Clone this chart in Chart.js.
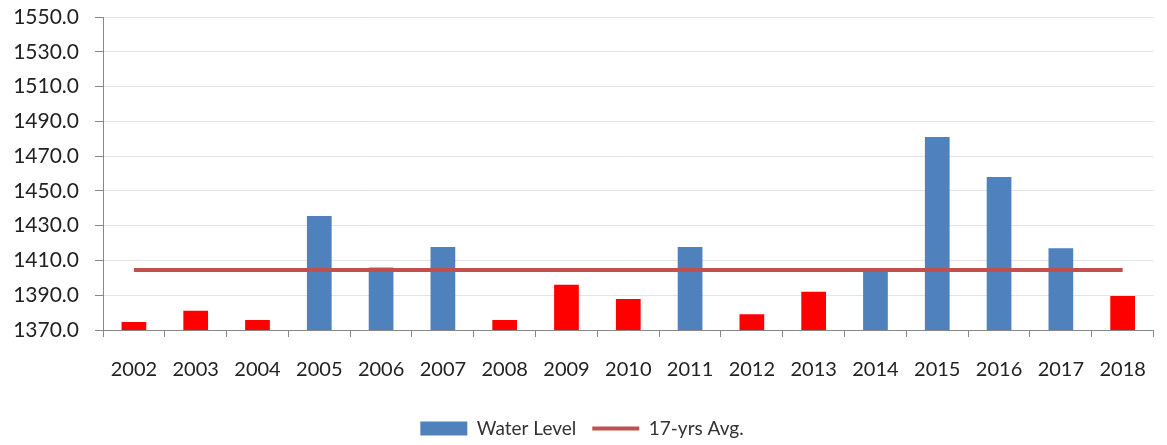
<!DOCTYPE html>
<html>
<head>
<meta charset="utf-8">
<script src="https://cdn.jsdelivr.net/npm/chart.js@4.4.1/dist/chart.umd.min.js"></script>
<style>
  html, body { margin: 0; padding: 0; background: #fff; }
  #wrap { width: 1167px; height: 445px; }
</style>
</head>
<body>
<div id="wrap"><canvas id="grafico"></canvas></div>
<script>
// ---- data ----
const anos = ["2002","2003","2004","2005","2006","2007","2008","2009","2010",
              "2011","2012","2013","2014","2015","2016","2017","2018"];
const nivelAgua = [1374.6, 1381.0, 1375.7, 1435.5, 1406.0, 1417.7, 1375.7, 1396.0, 1387.8,
                   1417.7, 1379.0, 1392.0, 1405.0, 1481.0, 1458.0, 1417.0, 1389.6];
const media17 = 1404.5;
const yTicks = [1370, 1390, 1410, 1430, 1450, 1470, 1490, 1510, 1530, 1550];

const AZUL = "#4F81BD";
const VERMELHO = "#FF0000";
const LINHA = "#C0504D";

const coresBarras = nivelAgua.map((v) => (v >= media17 ? AZUL : VERMELHO));
const fonte = "Lato, 'Open Sans', sans-serif";

new Chart(document.getElementById("grafico").getContext("2d"), {
  type: "bar",
  data: {
    labels: anos,
    datasets: [
      {
        label: "Water Level",
        data: nivelAgua,
        backgroundColor: coresBarras,
        barPercentage: 0.4,
        categoryPercentage: 1.0,
        order: 1,
        pointStyle: "rect",
      },
      {
        type: "line",
        label: "17-yrs Avg.",
        data: anos.map(() => media17),
        borderColor: LINHA,
        backgroundColor: LINHA,
        borderWidth: 4,
        pointRadius: 0,
        fill: false,
        order: 0,
        pointStyle: "line",
      },
    ],
  },
  options: {
    responsive: true,
    maintainAspectRatio: false,
    animation: false,
    layout: { padding: { left: 2, right: 5, top: 0, bottom: -3 } },
    plugins: {
      tooltip: { enabled: false },
      legend: {
        position: "bottom",
        labels: {
          usePointStyle: true,
          pointStyleWidth: 47,
          boxHeight: 14,
          padding: 16,
          color: "#333",
          font: { family: fonte, size: 19 },
          sort: (a, b) => a.datasetIndex - b.datasetIndex,
          generateLabels: (chart) => {
            const itens = Chart.defaults.plugins.legend.labels.generateLabels(chart);
            itens.forEach((it) => {
              if (it.datasetIndex === 0) {
                it.fillStyle = AZUL;
                it.strokeStyle = AZUL;
                it.lineWidth = 0;
              }
            });
            return itens;
          },
        },
      },
    },
    scales: {
      x: {
        offset: true,
        grid: {
          offset: true,
          drawOnChartArea: false,
          drawTicks: true,
          tickLength: 7,
          tickColor: "#888",
        },
        border: { color: "#888", width: 1 },
        ticks: {
          color: "#222",
          padding: 21,
          font: { family: fonte, size: 20 },
        },
      },
      y: {
        min: yTicks[0],
        max: yTicks[yTicks.length - 1],
        afterBuildTicks: (axis) => {
          axis.ticks = yTicks.map((v) => ({ value: v }));
        },
        afterFit: (axis) => {
          axis.width = 101;
          axis.paddingTop = 17;
          axis.paddingBottom = 12;
        },
        grid: {
          color: "#e3e3e3",
          drawTicks: true,
          tickLength: 8,
          tickColor: "#888",
        },
        border: { color: "#888", width: 1 },
        ticks: {
          color: "#222",
          padding: 16,
          font: { family: fonte, size: 21 },
          callback: (v) => Number(v).toFixed(1),
        },
      },
    },
  },
});
</script>
</body>
</html>
